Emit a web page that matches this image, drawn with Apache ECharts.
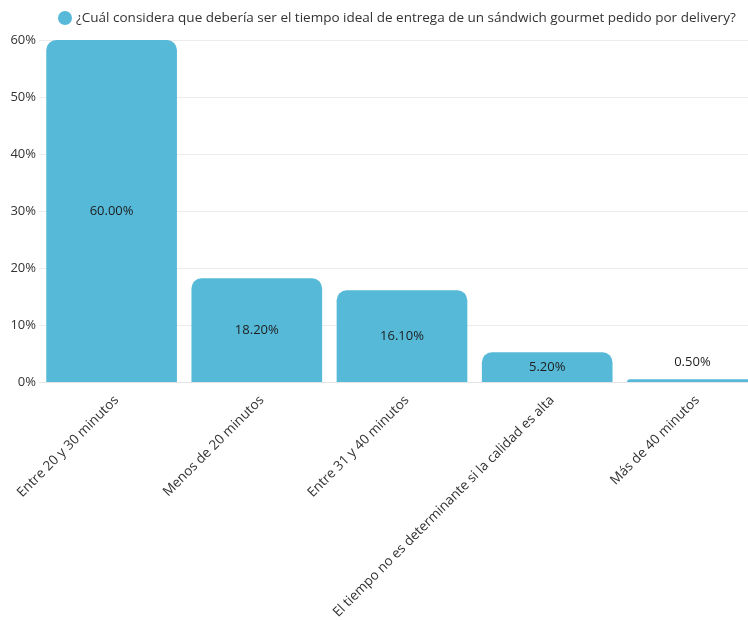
<!DOCTYPE html>
<html>
<head>
<meta charset="utf-8">
<script src="https://cdn.jsdelivr.net/npm/echarts@6/dist/echarts.min.js"></script>
<style>
  html, body { margin: 0; padding: 0; background: #fff; }
  #chart { width: 748px; height: 620px; }
</style>
</head>
<body>
<div id="chart"></div>
<script>
// Survey answers and their share of respondents (%)
const categories = [
  'Entre 20 y 30 minutos',
  'Menos de 20 minutos',
  'Entre 31 y 40 minutos',
  'El tiempo no es determinante si la calidad es alta',
  'Más de 40 minutos'
];
const values = [60.0, 18.2, 16.1, 5.2, 0.5];
const seriesName = '¿Cuál considera que debería ser el tiempo ideal de entrega de un sándwich gourmet pedido por delivery?';
const yTicks = [0, 10, 20, 30, 40, 50, 60];

const FONT = '"Open Sans", "Noto Sans", sans-serif';
const BAR = '#56b9d8';

const chart = echarts.init(document.getElementById('chart'), null, { renderer: 'canvas' });

chart.setOption({
  animation: false,
  textStyle: { fontFamily: FONT },
  legend: {
    top: 6,
    left: 53,
    icon: 'circle',
    itemWidth: 14,
    itemHeight: 14,
    itemGap: 6,
    textStyle: { fontFamily: FONT, fontSize: 13.5, color: '#333', padding: [0, 0, 0, -1] },
    data: [seriesName]
  },
  // the plot runs past the right edge, so the last bar is cut off
  grid: {
    left: 39, width: 726, top: 40, height: 342,
    containLabel: false,
    outerBoundsMode: 'none'
  },
  xAxis: {
    type: 'category',
    data: categories,
    axisTick: { show: false },
    axisLine: { lineStyle: { color: '#e4e4e4', width: 1 } },
    axisLabel: {
      rotate: 45,
      interval: 0,
      margin: 21,
      padding: [0, -7, 0, 0],
      fontFamily: FONT,
      fontSize: 13.5,
      color: '#333'
    }
  },
  yAxis: {
    type: 'value',
    min: yTicks[0],
    max: yTicks[yTicks.length - 1],
    interval: 10,
    axisLine: { show: false },
    axisTick: { show: false },
    splitLine: { lineStyle: { color: '#ececec', width: 1 } },
    axisLabel: {
      margin: 3,
      fontFamily: FONT,
      fontSize: 13,
      color: '#333',
      formatter: v => v + '%'
    }
  },
  series: [{
    name: seriesName,
    type: 'bar',
    data: values.map(v => ({
      value: v,
      label: v < 3
        ? { position: 'top', distance: 10 }
        : { position: 'inside' }
    })),
    barCategoryGap: '10%',
    itemStyle: { color: BAR, borderRadius: [10, 10, 0, 0] },
    label: {
      show: true,
      fontFamily: FONT,
      fontSize: 13,
      color: '#1e1e1e',
      formatter: p => p.value.toFixed(2) + '%'
    }
  }]
});
</script>
</body>
</html>
